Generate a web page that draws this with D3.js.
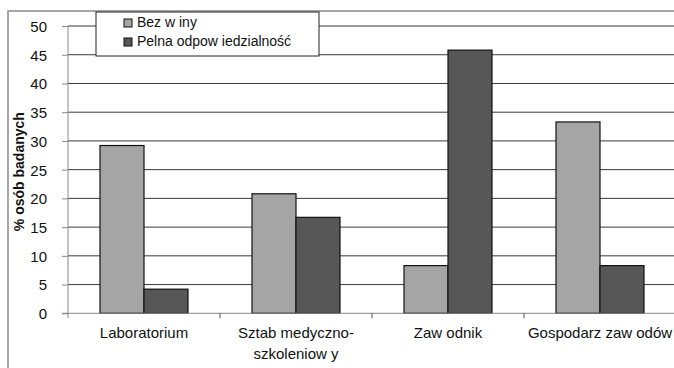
<!DOCTYPE html>
<html>
<head>
<meta charset="utf-8">
<script src="https://cdn.jsdelivr.net/npm/d3@7"></script>
<style>
  html, body { margin: 0; padding: 0; background: #fff; }
  svg { display: block; font-family: "Liberation Sans", Arial, sans-serif; }
</style>
</head>
<body>
<svg id="chart" width="674" height="368"></svg>
<script>
// Categories (label lines) and the two series, in percent of respondents
const categories = ["Laboratorium", "Sztab medyczno-szkoleniowy", "Zawodnik", "Gospodarz zawodów"];
const categoryLines = [["Laboratorium"], ["Sztab medyczno-", "szkoleniow y"], ["Zaw odnik"], ["Gospodarz zaw odów"]];
const seriesNames = ["Bez w iny", "Pelna odpow iedzialność"];
const bezWiny = [29.2, 20.8, 8.3, 33.3];
const pelnaOdpowiedzialnosc = [4.2, 16.7, 45.8, 8.3];
const yTicks = [0, 5, 10, 15, 20, 25, 30, 35, 40, 45, 50];
const colors = ["#a5a5a5", "#575757"];

const svg = d3.select("#chart");
const plot = { left: 68, right: 676, top: 26, bottom: 313.3 };

const x = d3.scaleBand()
  .domain(categories)
  .range([plot.left, plot.right])
  .paddingInner(0.421)
  .paddingOuter(0.2105);

const xInner = d3.scaleBand()
  .domain(seriesNames)
  .range([0, x.bandwidth()]);

const y = d3.scaleLinear().domain([0, 50]).range([plot.bottom, plot.top]);

// Outer chart frame
svg.append("path")
  .attr("d", "M8,368 V11 H674")
  .attr("fill", "none")
  .attr("stroke", "#8a8a8a")
  .attr("stroke-width", 1.5);

// Horizontal gridlines
svg.append("g")
  .selectAll("line")
  .data(yTicks.filter(d => d > 0))
  .join("line")
  .attr("x1", plot.left)
  .attr("x2", 674)
  .attr("y1", d => y(d))
  .attr("y2", d => y(d))
  .attr("stroke", "#3a3a3a")
  .attr("stroke-width", 1);

// Bars
const rows = categories.map((c, i) => ({ c, values: [bezWiny[i], pelnaOdpowiedzialnosc[i]] }));
svg.append("g")
  .selectAll("g")
  .data(rows)
  .join("g")
  .attr("transform", d => `translate(${x(d.c)},0)`)
  .selectAll("rect")
  .data(d => d.values.map((v, k) => ({ k, v })))
  .join("rect")
  .attr("x", d => xInner(seriesNames[d.k]))
  .attr("width", xInner.bandwidth())
  .attr("y", d => y(d.v))
  .attr("height", d => y(0) - y(d.v))
  .attr("fill", d => colors[d.k])
  .attr("stroke", "#111")
  .attr("stroke-width", 1.2);

// Y axis
const yAxis = d3.axisLeft(y).tickValues(yTicks).tickSize(6).tickPadding(15).tickFormat(d3.format("d"));
const gy = svg.append("g").attr("transform", `translate(${plot.left},0)`).call(yAxis);
gy.select(".domain").attr("stroke", "#888").attr("d", `M0,${plot.top}V${plot.bottom + 5}`);
gy.selectAll(".tick line").attr("stroke", "#888");
gy.selectAll(".tick text").attr("fill", "#111").style("font-size", "15px").attr("dy", "0.36em");

// X axis baseline and category separator ticks
svg.append("line")
  .attr("x1", plot.left - 6).attr("x2", 674)
  .attr("y1", y(0)).attr("y2", y(0))
  .attr("stroke", "#888");
const step = x.step();
svg.append("g")
  .selectAll("line")
  .data(d3.range(1, categories.length))
  .join("line")
  .attr("x1", i => x(categories[0]) - x.paddingOuter() * step + i * step)
  .attr("x2", i => x(categories[0]) - x.paddingOuter() * step + i * step)
  .attr("y1", y(0)).attr("y2", y(0) + 5)
  .attr("stroke", "#555");

// Category labels
svg.append("g")
  .selectAll("text")
  .data(categories)
  .join("text")
  .attr("text-anchor", "middle")
  .attr("fill", "#111")
  .style("font-size", "15px")
  .attr("transform", d => `translate(${x(d) + x.bandwidth() / 2},338)`)
  .selectAll("tspan")
  .data((d, i) => categoryLines[i])
  .join("tspan")
  .attr("x", 0)
  .attr("y", (d, j) => j * 21)
  .text(d => d);

// Y axis title
svg.append("text")
  .attr("transform", `translate(24,${(plot.top + plot.bottom) / 2 + 2}) rotate(-90)`)
  .attr("text-anchor", "middle")
  .attr("fill", "#111")
  .style("font-size", "14px")
  .style("font-weight", "bold")
  .text("% osób badanych");

// Legend
const legend = svg.append("g").attr("transform", "translate(96,12)");
legend.append("rect")
  .attr("width", 223).attr("height", 44)
  .attr("fill", "#fff").attr("stroke", "#222").attr("stroke-width", 1);
const items = legend.selectAll("g.item")
  .data(seriesNames)
  .join("g")
  .attr("class", "item")
  .attr("transform", (d, i) => `translate(28,${7 + i * 19})`);
items.append("rect")
  .attr("width", 8).attr("height", 8)
  .attr("fill", (d, i) => colors[i])
  .attr("stroke", "#111").attr("stroke-width", 1);
items.append("text")
  .attr("x", 13).attr("y", 8)
  .attr("fill", "#111")
  .style("font-size", "14px")
  .text(d => d);
</script>
</body>
</html>
